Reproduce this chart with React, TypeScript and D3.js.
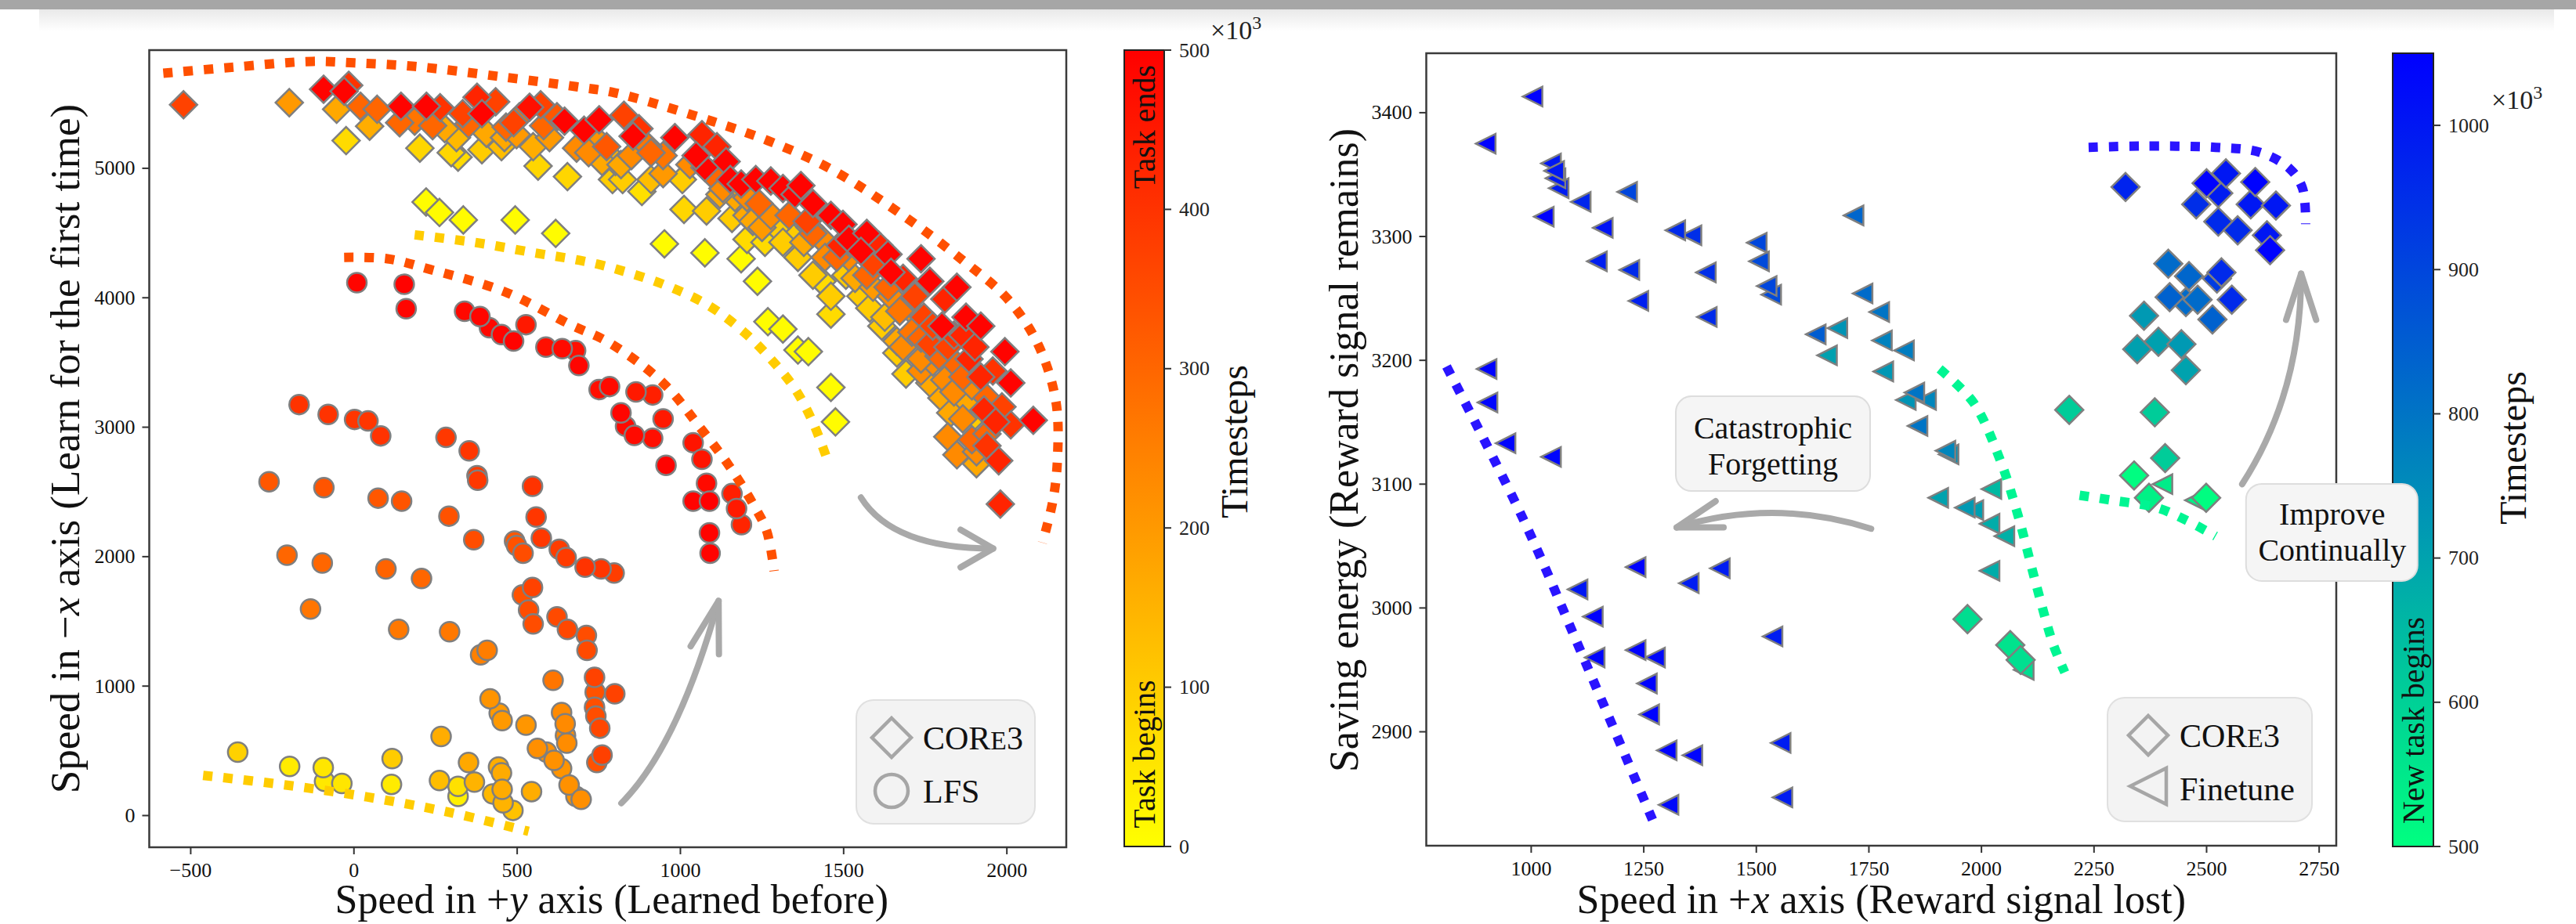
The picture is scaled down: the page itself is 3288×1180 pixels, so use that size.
import React, { useEffect } from 'react';
import * as d3 from 'd3';

// ---------------- left panel: [speed +y, speed -x, timestep (x10^3)] ----------------
const core3Left: [number, number, number][] = [
  [-522, 5491, 370], [-198, 5507, 200], [-93, 5611, 495], [-30, 5595, 495], [-16, 5641, 400],
  [-53, 5456, 170], [20, 5479, 300], [71, 5456, 300], [48, 5325, 160], [144, 5479, 495],
  [222, 5479, 495], [264, 5468, 400], [140, 5352, 300], [241, 5329, 300], [278, 5306, 170],
  [-24, 5214, 70], [202, 5156, 80], [298, 5121, 80], [319, 5086, 70], [377, 5549, 430],
  [434, 5514, 370], [392, 5422, 495], [351, 5341, 300], [406, 5271, 170], [466, 5318, 300],
  [498, 5260, 200], [392, 5144, 100], [452, 5167, 130], [538, 5472, 470], [572, 5491, 370],
  [549, 5167, 160], [564, 5017, 80], [654, 4936, 80], [645, 5364, 495], [622, 5398, 330],
  [682, 5156, 230], [705, 5294, 495], [751, 5375, 495], [774, 5167, 330], [792, 4913, 100],
  [760, 5052, 170], [801, 5052, 150], [221, 4740, 5], [262, 4659, 5], [335, 4601, 5],
  [494, 4601, 5], [618, 4497, 5], [507, 5398, 280], [599, 5237, 200], [728, 5260, 210],
  [461, 5237, 170], [186, 5364, 270], [314, 5237, 140], [333, 5422, 370], [489, 5352, 370],
  [581, 5329, 300], [719, 5121, 230],
  [827, 5410, 370], [855, 5248, 495], [873, 5306, 400], [823, 4913, 100], [882, 4821, 60],
  [910, 4913, 130], [850, 5098, 230], [910, 5121, 300], [947, 5098, 270], [983, 5237, 495],
  [1006, 4913, 100], [1011, 4682, 80], [1080, 4670, 100], [951, 4416, 5], [1075, 4347, 5],
  [1186, 4301, 5], [1236, 4127, 5], [1268, 3815, 5], [1314, 3758, 5], [1360, 3596, 5],
  [1392, 3584, 5], [1461, 3307, 5], [1475, 3041, 5], [1066, 5260, 430], [1075, 5006, 495],
  [1048, 5098, 495], [1112, 5167, 430], [1140, 5052, 495], [1153, 4913, 495], [1186, 4879, 495],
  [1167, 4775, 170], [1121, 4798, 170], [1158, 4613, 100], [1204, 4451, 70], [1259, 4428, 70],
  [1231, 4913, 495], [1277, 4902, 495], [1241, 4728, 300], [1314, 4844, 495], [1351, 4798, 495],
  [1369, 4867, 495], [1406, 4728, 495], [1333, 4497, 100], [1378, 4428, 170], [1434, 4451, 230],
  [1443, 4312, 230], [1461, 4636, 495], [1498, 4567, 495], [1516, 4451, 495], [1360, 4312, 100],
  [1406, 4174, 100], [1434, 4127, 70], [1461, 4012, 100], [1461, 3873, 70], [1571, 4497, 495],
  [1553, 4359, 495], [1608, 4405, 430], [1636, 4335, 495], [1737, 4301, 495], [1590, 4266, 370],
  [1645, 4197, 495], [1682, 4150, 430], [1764, 4127, 495], [1847, 4081, 495], [1553, 4012, 100],
  [1590, 4081, 200], [1580, 3920, 100], [1645, 4012, 230], [1672, 3896, 270], [1718, 4012, 370],
  [1746, 3850, 370], [1810, 3989, 430], [1801, 3781, 495], [1875, 3850, 495], [1920, 3781, 495],
  [1617, 3781, 100], [1663, 3665, 170], [1682, 3619, 230], [1663, 3573, 100], [1737, 3688, 300],
  [1764, 3642, 370], [1819, 3619, 370], [1865, 3711, 430], [1994, 3584, 495], [1884, 3527, 430],
  [1920, 3388, 430], [2012, 3342, 495], [1957, 3434, 400], [1737, 3434, 230], [1773, 3504, 230],
  [1810, 3365, 230], [1838, 3272, 230], [1691, 3411, 100], [1801, 3226, 170], [1875, 3180, 170],
  [1902, 3088, 100], [1930, 3134, 430], [1966, 3041, 430], [2012, 3018, 400], [2081, 3053, 495],
  [1819, 2926, 230], [1847, 2787, 230], [1907, 2718, 170], [1893, 2903, 300], [1939, 2856, 400],
  [1975, 2741, 430], [1980, 2406, 430], [1204, 4636, 170], [1277, 4636, 230], [1333, 4636, 300],
  [1397, 4543, 230], [1296, 4543, 100], [1516, 4312, 230], [1489, 4405, 430], [1571, 4174, 300],
  [1535, 4150, 170], [1626, 3850, 130], [1709, 3734, 270], [1773, 3781, 370], [1838, 3711, 400],
  [1902, 3619, 430], [1847, 3480, 300], [1764, 3342, 170], [1893, 3319, 230], [1865, 3064, 230],
  [1939, 2949, 300], [1907, 2810, 230], [901, 5167, 270], [947, 4959, 200], [818, 5029, 170],
  [1029, 5029, 230], [1094, 4959, 300], [1130, 4844, 230], [1204, 4775, 230], [1222, 4590, 170],
  [1250, 4543, 200], [1314, 4428, 100], [1406, 4497, 300], [1388, 4590, 370], [1479, 4312, 300],
  [1507, 4174, 100], [1636, 4081, 300], [1700, 3920, 230], [1737, 3527, 230], [1792, 3550, 300],
  [1865, 3388, 300], [1828, 3111, 170], [1939, 3226, 300], [1985, 3157, 370],
];

const lfsLeft: [number, number, number][] = [
  [9, 4116, 490], [154, 4104, 495], [160, 3915, 490], [339, 3896, 485], [386, 3855, 490],
  [415, 3769, 485], [452, 3716, 490], [489, 3665, 495], [527, 3792, 450], [588, 3619, 470],
  [638, 3607, 480], [679, 3591, 470], [689, 3476, 490], [751, 3291, 470], [783, 3314, 480],
  [864, 3272, 450], [915, 3249, 440], [818, 3111, 490], [832, 3007, 480], [859, 2937, 480],
  [915, 2914, 470], [947, 3064, 450], [956, 2706, 495], [1039, 2880, 460], [1066, 2752, 460],
  [1080, 2567, 480], [1039, 2429, 495], [1089, 2429, 500], [1158, 2487, 440], [1172, 2371, 450],
  [1187, 2247, 430], [1089, 2184, 495], [1091, 2027, 495],
  [-168, 3175, 400], [-79, 3099, 400], [2, 3060, 395], [43, 3048, 395], [82, 2933, 400],
  [282, 2921, 390], [353, 2817, 395], [377, 2625, 380], [379, 2591, 390], [547, 2544, 400],
  [-260, 2579, 330], [-92, 2533, 335], [74, 2452, 330], [146, 2429, 335], [291, 2313, 340],
  [558, 2306, 395], [367, 2131, 350], [574, 2143, 390], [492, 2120, 330], [498, 2085, 340],
  [518, 2027, 350], [629, 2057, 380], [650, 1993, 385], [708, 1919, 400], [757, 1905, 395],
  [797, 1873, 380],
  [-205, 2011, 300], [-97, 1951, 300], [98, 1905, 305], [207, 1831, 300],
  [-133, 1595, 270], [137, 1438, 265], [293, 1420, 265], [388, 1242, 250], [408, 1276, 255],
  [547, 1762, 370], [516, 1704, 340], [535, 1588, 350], [549, 1480, 350], [622, 1535, 355],
  [654, 1438, 360], [712, 1392, 350], [714, 1276, 355],
  [737, 1068, 370], [739, 953, 340], [737, 837, 345], [741, 768, 350], [753, 675, 360],
  [760, 467, 375], [744, 410, 340], [799, 941, 370], [610, 1045, 270],
  [417, 902, 210], [445, 791, 200], [454, 733, 200], [527, 699, 205], [636, 796, 230],
  [647, 710, 230], [648, 618, 225], [652, 560, 225], [562, 518, 220], [590, 490, 215],
  [613, 426, 215], [636, 363, 210], [659, 236, 215], [680, 148, 210], [696, 125, 220],
  [267, 611, 160], [351, 410, 170], [443, 375, 160], [452, 329, 165], [369, 259, 150],
  [262, 271, 130], [454, 202, 165], [544, 185, 160], [425, 167, 140], [457, 98, 150],
  [487, 40, 120],
  [319, 225, 60], [319, 148, 30], [-356, 490, 90], [-197, 380, 40], [-94, 370, 50],
  [-90, 264, 45], [-37, 248, 50], [117, 440, 100], [115, 241, 40],
];

// dashed guides, left panel
const leftOuterGuide: [number, number][] = [
  [-584, 5734], [-375, 5780], [-127, 5826], [2, 5814], [186, 5787], [443, 5710], [682, 5630],
  [800, 5583], [1039, 5410], [1268, 5214], [1461, 4994], [1682, 4636], [1865, 4289], [2003, 3989],
  [2095, 3642], [2150, 3203], [2155, 2755], [2141, 2432], [2109, 2108],
];
const leftInnerGuide: [number, number][] = [
  [-30, 4312], [103, 4301], [232, 4220], [461, 4047], [663, 3792], [781, 3654], [947, 3342],
  [1066, 2979], [1149, 2702], [1222, 2409], [1264, 2201], [1287, 1889],
];
const leftGoldGuide: [number, number][] = [
  [186, 4486], [369, 4428], [553, 4347], [691, 4289], [772, 4243], [947, 4104], [1085, 3942],
  [1195, 3734], [1277, 3527], [1351, 3296], [1406, 3037], [1452, 2735],
];
const leftBottomGuide: [number, number][] = [[-462, 310], [-209, 236], [39, 144], [287, 28], [535, -122]];

// arrows: start, control, tip (data units)
const leftArrowUp: [number, number][] = [[819, 95], [992, 532], [1117, 1658]];
const leftArrowRight: [number, number][] = [[1553, 2457], [1651, 2063], [1958, 2063]];

// ---------------- right panel: [speed +x, saving energy, timestep (x10^3)] ----------------
const finetuneRight: [number, number, number][] = [
  [1003, 3413, 1045], [899, 3375, 1045], [1044, 3359, 1000], [1051, 3353, 1000], [1054, 3347, 995],
  [1061, 3339, 990], [1110, 3328, 970], [1028, 3316, 1045], [1213, 3336, 900], [1159, 3307, 1010],
  [1320, 3305, 960], [1356, 3301, 950], [1146, 3280, 985], [1218, 3273, 960], [1238, 3248, 980],
  [1388, 3271, 950], [1390, 3235, 960], [1501, 3295, 900], [1506, 3280, 890], [1523, 3260, 900],
  [1533, 3253, 890], [1716, 3317, 830], [1736, 3254, 820], [1773, 3239, 800], [1632, 3221, 850],
  [1680, 3226, 730], [1657, 3204, 705], [1779, 3216, 770], [1782, 3191, 725], [901, 3193, 1045],
  [903, 3166, 1040], [943, 3133, 1040], [1044, 3122, 1040], [1232, 3033, 1045], [1103, 3015, 1000],
  [1350, 3020, 990], [1419, 3032, 990], [1137, 2993, 1045], [1141, 2960, 1040], [1232, 2966, 1045],
  [1275, 2960, 1030], [1257, 2939, 1045], [1262, 2914, 1045], [1536, 2977, 990], [1301, 2885, 1045],
  [1358, 2881, 1040], [1554, 2891, 990], [1305, 2841, 1030], [1558, 2847, 990], [1828, 3208, 780],
  [1851, 3174, 800], [1877, 3168, 760], [1832, 3168, 730], [1858, 3147, 800], [1920, 3127, 760],
  [1927, 3124, 740], [1904, 3089, 700], [1963, 3081, 720], [1982, 3079, 710], [2018, 3068, 680],
  [2051, 3058, 670], [2022, 3096, 650], [2018, 3030, 680], [2094, 2950, 575], [2402, 3100, 540],
  [2474, 3087, 530],
];

const core3Right: [number, number, number][] = [
  [2320, 3340, 975], [2500, 3343, 1045], [2543, 3351, 1000], [2608, 3344, 1045], [2526, 3335, 990],
  [2477, 3326, 950], [2598, 3326, 1000], [2654, 3325, 1000], [2526, 3312, 960], [2569, 3305, 960],
  [2634, 3301, 1000], [2641, 3289, 1045], [2415, 3278, 820], [2461, 3268, 830], [2533, 3271, 960],
  [2523, 3266, 920], [2418, 3251, 840], [2454, 3247, 820], [2480, 3249, 820], [2513, 3233, 840],
  [2556, 3249, 960], [2361, 3236, 720], [2346, 3209, 705], [2393, 3215, 705], [2444, 3213, 720],
  [2454, 3192, 700], [2195, 3160, 610], [2385, 3158, 610], [2408, 3121, 610], [2339, 3107, 505],
  [2372, 3089, 530], [2499, 3089, 505], [1969, 2991, 573], [2064, 2970, 560], [2087, 2958, 570],
];

const rightBlueLine: [number, number][] = [[812, 3195], [982, 3072], [1123, 2954], [1274, 2825]];
const rightBlueArc: [number, number][] = [
  [2238, 3372], [2356, 3373], [2520, 3372], [2618, 3368], [2684, 3355], [2713, 3339], [2720, 3310],
];
const rightGreenLine: [number, number][] = [
  [1907, 3193], [1982, 3166], [2041, 3120], [2081, 3075], [2120, 3021], [2159, 2971], [2185, 2948],
];
const rightGreenShort: [number, number][] = [[2218, 3091], [2290, 3087], [2389, 3081], [2454, 3071], [2520, 3058]];

const rightArrowForget: [number, number][] = [[1755, 3064], [1539, 3089], [1323, 3065]];
const rightArrowImprove: [number, number][] = [[2579, 3100], [2710, 3174], [2710, 3270]];

// ticks
const leftXTicks = [-500, 0, 500, 1000, 1500, 2000];
const leftYTicks = [0, 1000, 2000, 3000, 4000, 5000];
const rightXTicks = [1000, 1250, 1500, 1750, 2000, 2250, 2500, 2750];
const rightYTicks = [2900, 3000, 3100, 3200, 3300, 3400];
const leftBarTicks = [0, 100, 200, 300, 400, 500];
const rightBarTicks = [500, 600, 700, 800, 900, 1000];

const serif = '"Liberation Serif", "Times New Roman", Times, serif';
const EDGE = '#7f7f7f';
const ARROW = '#a9a9a9';

const autumnR = (t: number) => d3.rgb(255, 255 * (1 - Math.max(0, Math.min(500, t)) / 500), 0).formatHex();
const winterR = (t: number) => {
  const u = Math.max(0, Math.min(1, (t - 500) / 550));
  return d3.rgb(0, 255 * (1 - u), 255 * (0.5 + 0.5 * u)).formatHex();
};

const diamond = (r: number) => `M0,${-r}L${r},0L0,${r}L${-r},0Z`;
const triLeft = (r: number) => `M${-r},0L${r},${-r}L${r},${r}Z`;
const fmt = (v: number) => (v < 0 ? '\u2212' + Math.abs(v) : String(v));

function Arrow({ pts, x, y, len, half }: any) {
  const [s, c, e] = pts.map((p: number[]) => [x(p[0]), y(p[1])]);
  const dx = e[0] - c[0], dy = e[1] - c[1];
  const L = Math.hypot(dx, dy);
  const bx = -dx / L, by = -dy / L;
  const arm = (a: number) => {
    const r = (a * Math.PI) / 180;
    return [e[0] + len * (bx * Math.cos(r) - by * Math.sin(r)), e[1] + len * (bx * Math.sin(r) + by * Math.cos(r))];
  };
  const a1 = arm(half), a2 = arm(-half);
  return (
    <g stroke={ARROW} strokeWidth={8} fill="none" strokeLinecap="round" strokeLinejoin="round">
      <path d={`M${s[0]},${s[1]}Q${c[0]},${c[1]} ${e[0]},${e[1]}`} />
      <path d={`M${a1[0]},${a1[1]}L${e[0]},${e[1]}L${a2[0]},${a2[1]}`} />
    </g>
  );
}

function Guide({ pts, x, y, color }: any) {
  const line = d3.line<[number, number]>().x(d => x(d[0])).y(d => y(d[1])).curve(d3.curveCatmullRom.alpha(0.5));
  return <path d={line(pts) || ''} fill="none" stroke={color} strokeWidth={12} strokeDasharray="12 14" />;
}

function Frame({ x, y, xTicks, yTicks }: any) {
  const [x0, x1] = x.range();
  const [y1, y0] = y.range();
  return (
    <g fontFamily={serif} fontSize={26} fill="#111">
      <rect x={x0} y={y0} width={x1 - x0} height={y1 - y0} fill="none" stroke="#3a3a3a" strokeWidth={2.5} />
      {xTicks.map((t: number) => (
        <g key={'x' + t}>
          <line x1={x(t)} x2={x(t)} y1={y1} y2={y1 + 9} stroke="#333" strokeWidth={2} />
          <text x={x(t)} y={y1 + 38} textAnchor="middle">{fmt(t)}</text>
        </g>
      ))}
      {yTicks.map((t: number) => (
        <g key={'y' + t}>
          <line x1={x0 - 9} x2={x0} y1={y(t)} y2={y(t)} stroke="#333" strokeWidth={2} />
          <text x={x0 - 18} y={y(t)} textAnchor="end" dominantBaseline="central">{fmt(t)}</text>
        </g>
      ))}
    </g>
  );
}

function ColorBar({ id, x0, x1, scale, ticks, stops, label, inner }: any) {
  const [yb, yt] = scale.range();
  return (
    <g fontFamily={serif}>
      <defs>
        <linearGradient id={id} x1="0" y1="1" x2="0" y2="0">
          {stops.map((s: [number, string], i: number) => <stop key={i} offset={s[0]} stopColor={s[1]} />)}
        </linearGradient>
      </defs>
      <rect x={x0} y={yt} width={x1 - x0} height={yb - yt} fill={`url(#${id})`} stroke="#222" strokeWidth={2} />
      {ticks.map((t: number) => (
        <g key={t}>
          <line x1={x1} x2={x1 + 9} y1={scale(t)} y2={scale(t)} stroke="#333" strokeWidth={2} />
          <text x={x1 + 19} y={scale(t)} dominantBaseline="central" fontSize={26} fill="#222">{t}</text>
        </g>
      ))}
      {inner.map((d: any, i: number) => (
        <text key={i} transform={`translate(${(x0 + x1) / 2},${d.y}) rotate(-90)`} textAnchor="middle"
          dominantBaseline="central" fontSize={40} fill="#111">{d.text}</text>
      ))}
      <text transform={`translate(${label.x},${label.y}) rotate(-90)`} textAnchor="middle"
        dominantBaseline="central" fontSize={48} fill="#111">Timesteps</text>
      <text x={label.ex} y={label.ey} fontSize={34} fill="#222">
        ×10<tspan dy={-13} fontSize={24}>3</tspan>
      </text>
    </g>
  );
}

function Core3Text() {
  return (
    <>
      COR<tspan fontSize="0.8em">E</tspan>3
    </>
  );
}

export default function App() {
  useEffect(() => {
    document.body.style.margin = '0';
  }, []);

  // left panel scales
  const lx = d3.scaleLinear().domain([-627, 2182]).range([190.5, 1361]);
  const ly = d3.scaleLinear().domain([-245, 5913]).range([1082, 64]);
  // right panel scales
  const rx = d3.scaleLinear().domain([767, 2788]).range([1820.5, 2982]);
  const ry = d3.scaleLinear().domain([2808, 3448]).range([1080, 68]);
  // colour bars
  const lc = d3.scaleLinear().domain([0, 500]).range([1081, 64]);
  const rc = d3.scaleLinear().domain([500, 1050]).range([1081, 68]);

  const byT = (a: number[], b: number[]) => a[2] - b[2];
  const core3L = [...core3Left].sort(byT);
  const lfsL = [...lfsLeft].sort(byT);
  const finR = [...finetuneRight].sort(byT);
  const coreR = [...core3Right].sort(byT);

  const autumnStops = d3.range(0, 1.0001, 0.1).map(f => [f, autumnR(f * 500)]);
  const winterStops = d3.range(0, 1.0001, 0.1).map(f => [f, winterR(500 + f * 550)]);

  const lxC = (lx.range()[0] + lx.range()[1]) / 2;
  const rxC = (rx.range()[0] + rx.range()[1]) / 2;

  return (
    <div style={{ position: 'absolute', left: 0, top: 0 }}>
      <svg width={3288} height={1180} style={{ display: 'block', background: '#fff' }}>
        <defs>
          <linearGradient id="topfade" x1="0" y1="0" x2="0" y2="1">
            <stop offset="0" stopColor="#e9e9e9" />
            <stop offset="1" stopColor="#ffffff" />
          </linearGradient>
        </defs>
        <rect x={50} y={12} width={3210} height={28} fill="url(#topfade)" />
        <rect x={0} y={0} width={3288} height={12} fill="#a6a6a6" />

        {/* ---------------- left panel ---------------- */}
        <g>
          {core3L.map((d, i) => (
            <path key={'cl' + i} d={diamond(17.5)} transform={`translate(${lx(d[0])},${ly(d[1])})`}
              fill={autumnR(d[2])} stroke={EDGE} strokeWidth={2.5} />
          ))}
          {lfsL.map((d, i) => (
            <circle key={'ll' + i} cx={lx(d[0])} cy={ly(d[1])} r={12.5}
              fill={autumnR(d[2])} stroke={EDGE} strokeWidth={2.5} />
          ))}
          <Guide pts={leftOuterGuide} x={lx} y={ly} color="#ff5000" />
          <Guide pts={leftInnerGuide} x={lx} y={ly} color="#ff5000" />
          <Guide pts={leftGoldGuide} x={lx} y={ly} color="#ffcc00" />
          <Guide pts={leftBottomGuide} x={lx} y={ly} color="#ffcc00" />
          <Arrow pts={leftArrowUp} x={lx} y={ly} len={68} half={16} />
          <Arrow pts={leftArrowRight} x={lx} y={ly} len={48} half={30} />
          <Frame x={lx} y={ly} xTicks={leftXTicks} yTicks={leftYTicks} />

          {/* legend */}
          <g fontFamily={serif} fontSize={42} fill="#111">
            <rect x={1093} y={894} width={228} height={158} rx={22} fill="#f3f3f3" stroke="#e0e0e0" strokeWidth={2} />
            <path d={diamond(25)} transform="translate(1138,942)" fill="none" stroke="#a6a6a6" strokeWidth={4.5} />
            <circle cx={1138} cy={1010} r={21} fill="none" stroke="#a6a6a6" strokeWidth={4.5} />
            <text x={1178} y={957}><Core3Text /></text>
            <text x={1178} y={1025}>LFS</text>
          </g>

          <text x={lxC + 5} y={1166} textAnchor="middle" fontFamily={serif} fontSize={52} fill="#111">
            Speed in +<tspan fontStyle="italic">y</tspan> axis (Learned before)
          </text>
          <text transform={`translate(83,573) rotate(-90)`} textAnchor="middle" dominantBaseline="central"
            fontFamily={serif} fontSize={53} fill="#111">
            Speed in −<tspan fontStyle="italic">x</tspan> axis (Learn for the first time)
          </text>
        </g>

        <ColorBar id="autumn" x0={1435} x1={1486} scale={lc} ticks={leftBarTicks} stops={autumnStops}
          label={{ x: 1575, y: 564, ex: 1545, ey: 50 }}
          inner={[{ text: 'Task ends', y: 162 }, { text: 'Task begins', y: 963 }]} />

        {/* ---------------- right panel ---------------- */}
        <g>
          {finR.map((d, i) => (
            <path key={'fr' + i} d={triLeft(12.5)} transform={`translate(${rx(d[0])},${ry(d[1])})`}
              fill={winterR(d[2])} stroke={EDGE} strokeWidth={2.5} />
          ))}
          {coreR.map((d, i) => (
            <path key={'cr' + i} d={diamond(18)} transform={`translate(${rx(d[0])},${ry(d[1])})`}
              fill={winterR(d[2])} stroke={EDGE} strokeWidth={2.5} />
          ))}
          <Guide pts={rightBlueLine} x={rx} y={ry} color="#2a14ff" />
          <Guide pts={rightBlueArc} x={rx} y={ry} color="#2a14ff" />
          <Guide pts={rightGreenLine} x={rx} y={ry} color="#00f592" />
          <Guide pts={rightGreenShort} x={rx} y={ry} color="#00f592" />
          <Arrow pts={rightArrowForget} x={rx} y={ry} len={60} half={17} />
          <Frame x={rx} y={ry} xTicks={rightXTicks} yTicks={rightYTicks} />

          <text x={rxC} y={1166} textAnchor="middle" fontFamily={serif} fontSize={52} fill="#111">
            Speed in +<tspan fontStyle="italic">x</tspan> axis (Reward signal lost)
          </text>
          <text transform={`translate(1715,575) rotate(-90)`} textAnchor="middle" dominantBaseline="central"
            fontFamily={serif} fontSize={52} fill="#111">
            Saving energy (Reward signal remains)
          </text>

          {/* annotation: catastrophic forgetting */}
          <g fontFamily={serif} fontSize={40} fill="#111" textAnchor="middle">
            <rect x={rx(1537) - 124} y={ry(3133) - 60} width={248} height={121} rx={20}
              fill="#f5f5f5" stroke="#dddddd" strokeWidth={2} />
            <text x={rx(1537)} y={ry(3133) - 6}>Catastrophic</text>
            <text x={rx(1537)} y={ry(3133) + 40}>Forgetting</text>
          </g>

          {/* legend */}
          <g fontFamily={serif} fontSize={42} fill="#111">
            <rect x={2690} y={891} width={261} height={158} rx={22} fill="#f3f3f3" stroke="#e0e0e0" strokeWidth={2} />
            <path d={diamond(25)} transform="translate(2742,939)" fill="none" stroke="#a6a6a6" strokeWidth={4.5} />
            <path d={triLeft(23)} transform="translate(2742,1004)" fill="none" stroke="#a6a6a6" strokeWidth={4.5} />
            <text x={2782} y={954}><Core3Text /></text>
            <text x={2782} y={1022}>Finetune</text>
          </g>
        </g>

        <ColorBar id="winter" x0={3054} x1={3106} scale={rc} ticks={rightBarTicks} stops={winterStops}
          label={{ x: 3207, y: 572, ex: 3180, ey: 139 }}
          inner={[{ text: 'New task begins', y: 920 }]} />

        {/* improve arrow + box drawn over the colour bar */}
        <Arrow pts={rightArrowImprove} x={rx} y={ry} len={62} half={18} />
        <g fontFamily={serif} fontSize={40} fill="#111" textAnchor="middle">
          <rect x={rx(2779) - 110} y={ry(3061) - 62} width={219} height={124} rx={20}
            fill="#f5f5f5" stroke="#dddddd" strokeWidth={2} />
          <text x={rx(2779)} y={ry(3061) - 10}>Improve</text>
          <text x={rx(2779)} y={ry(3061) + 36}>Continually</text>
        </g>
      </svg>
    </div>
  );
}
